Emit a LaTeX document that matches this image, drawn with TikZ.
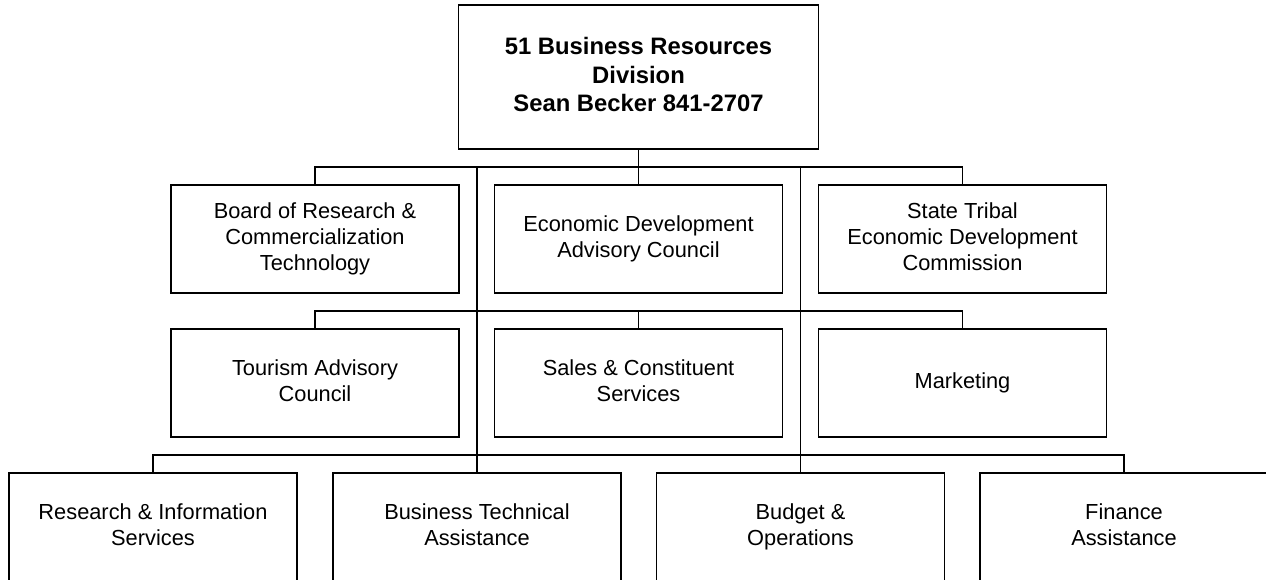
\documentclass[tikz,border=0pt]{standalone}
\usepackage{fontspec}
\setmainfont{Liberation Sans}
\newcommand\boxstrut{\rule[-4.5pt]{0pt}{21pt}}

\tikzset{
	unit/.style={draw, rectangle, line width=1.3pt, minimum width=288pt, minimum height=108pt, inner sep=0pt, align=center, font=\fontsize{21.8}{26.3}\selectfont, execute at begin node=\boxstrut, execute at end node=\boxstrut},
	head/.style={unit, minimum width=360pt, minimum height=144pt, font=\bfseries\fontsize{23.8}{28.4}\selectfont},
	wire/.style={line width=1.3pt}
}

\begin{document}
\begin{tikzpicture}[x=1pt,y=-1pt]
		\useasboundingbox (0,0) rectangle (1266,579);
		\clip (0,0) rectangle (1266,579);
		\node[head] (div) at (638.5,77) {51 Business Resources\\Division\\Sean Becker 841-2707};
		\node[unit] (board) at (315,239) {Board of Research \&\\Commercialization\\Technology};
		\node[unit] (edac) at (638.5,239) {Economic Development\\Advisory Council};
		\node[unit] (tribal) at (962.5,239) {State Tribal\\Economic Development\\Commission};
		\node[unit] (tourism) at (315,383) {Tourism Advisory\\Council};
		\node[unit] (sales) at (638.5,383) {Sales \& Constituent\\Services};
		\node[unit] (mkt) at (962.5,383) {Marketing};
		\node[unit] (research) at (153,527) {Research \& Information\\Services};
		\node[unit] (bta) at (477,527) {Business Technical\\Assistance};
		\node[unit] (budget) at (800.5,527) {Budget \&\\Operations};
		\node[unit] (finance) at (1124,527) {Finance\\Assistance};
		\coordinate (busA) at (638.5,167);
		\coordinate (busB) at (638.5,311);
		\coordinate (busC) at (638.5,455);
		\draw[wire] (div.south) -- (edac.north);
		\draw[wire] (board.north) |- (busA) -| (tribal.north);
		\draw[wire] (tourism.north) |- (busB) -| (mkt.north);
		\draw[wire] (busB) -- (sales.north);
		\draw[wire] (research.north) |- (busC) -| (finance.north);
		\draw[wire] (bta.north) -- (bta.north |- busA);
		\draw[wire] (budget.north) -- (budget.north |- busA);
	\end{tikzpicture}
\end{document}
